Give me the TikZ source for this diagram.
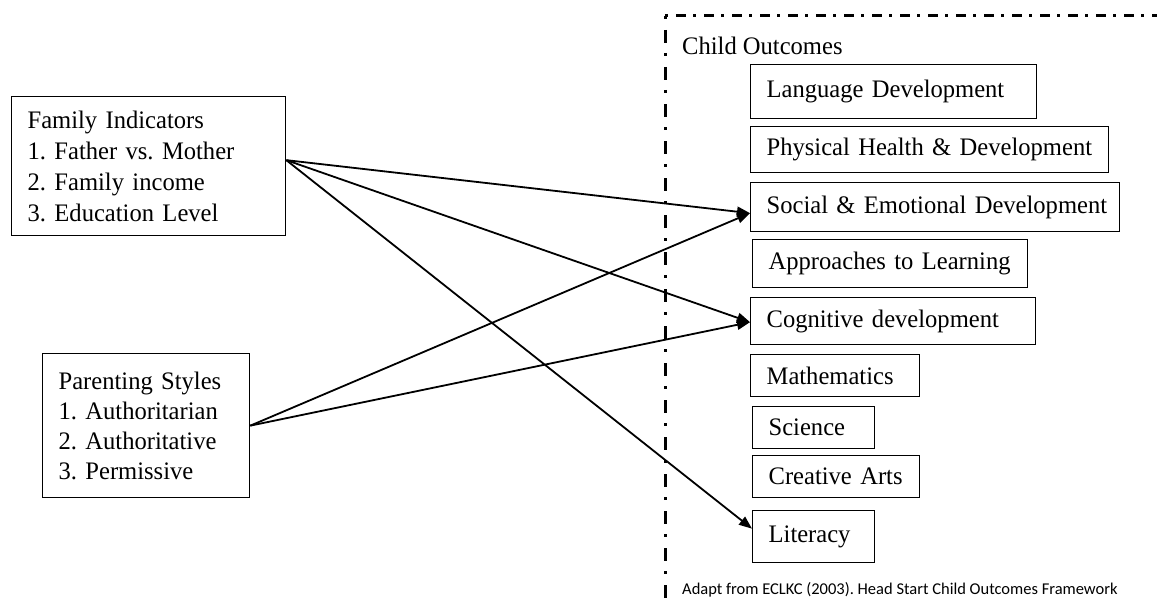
\documentclass[tikz,border=0pt]{standalone}
\usepackage{fontspec}
\setmainfont{Liberation Serif}[FakeStretch=0.975]
\newfontfamily\footfont{Carlito}
\usetikzlibrary{arrows.meta}
\frenchspacing
\tikzset{
  txt/.style={font=\frenchspacing\fontsize{25.2}{31}\selectfont},
  obox/.style={draw, line width=1.3pt, anchor=north west, inner xsep=16pt, inner ysep=0pt, align=left, txt},
  conn/.style={line width=1.8pt, -{Triangle[length=13pt,width=10pt]}},
  hdash/.style={line width=3pt, dash pattern=on 3pt off 8pt on 10pt off 7pt},
  vdash/.style={line width=3pt, dash pattern=on 3pt off 11pt on 13pt off 10pt},
}
\begin{document}
\begin{tikzpicture}[x=1pt,y=-1pt]
\useasboundingbox (0,0) rectangle (1157,602);
% frame
\coordinate (corner) at (665,16);
\coordinate (hend) at (1157,16);
\coordinate (vend) at (665,602);
\draw[hdash] (corner) -- (hend);
\draw[vdash] (corner) -- (vend);
\node[anchor=west, txt, inner sep=0pt] (co) at (682,46) {Child Outcomes};
% outcome boxes
\node[obox, text width=254pt, minimum height=54pt] (lang) at (750,64) {\mbox{Language Development}};
\node[obox, text width=326pt, minimum height=46pt] (phys) at (750,126) {\mbox{Physical Health \& Development}};
\node[obox, text width=337pt, minimum height=49pt] (soc) at (750,182) {\mbox{Social \& Emotional Development}};
\node[obox, text width=243pt, minimum height=48pt] (appr) at (752,239) {\mbox{Approaches to Learning}};
\node[obox, text width=253pt, minimum height=47pt] (cog) at (750,297) {\mbox{Cognitive development}};
\node[obox, text width=137pt, minimum height=42pt] (math) at (750,354) {\mbox{Mathematics}};
\node[obox, text width=90pt, minimum height=42pt] (sci) at (752,406) {\mbox{Science}};
\node[obox, text width=135pt, minimum height=42pt] (art) at (752,455) {\mbox{Creative Arts}};
\node[obox, text width=90pt, minimum height=52pt] (lit) at (752,510) {\mbox{Literacy}};
% left boxes
\node[obox, text width=242pt, minimum height=139pt] (fam) at (11,96) {Family Indicators\\1. Father vs. Mother\\2. Family income\\3. Education Level};
\node[obox, text width=175pt, minimum height=144pt, font=\frenchspacing\fontsize{25.2}{30}\selectfont] (par) at (42,353) {Parenting Styles\\1. Authoritarian\\2. Authoritative\\3. Permissive};
% footer
\node[anchor=west, inner sep=0pt, font=\footfont\fontsize{16.5}{20}\selectfont] (foot) at (682,590) {Adapt from ECLKC (2003). Head Start Child Outcomes Framework};
% connectors
\draw[conn] ([yshift=6pt]fam.east) -- ([yshift=-6pt]soc.west);
\draw[conn] ([yshift=6pt]fam.east) -- ([yshift=-1pt]cog.west);
\draw[conn] ([yshift=6pt]fam.east) -- ([yshift=8pt]lit.west);
\draw[conn] (par.east) -- ([yshift=-6pt]soc.west);
\draw[conn] (par.east) -- ([yshift=-1pt]cog.west);
\end{tikzpicture}
\end{document}
